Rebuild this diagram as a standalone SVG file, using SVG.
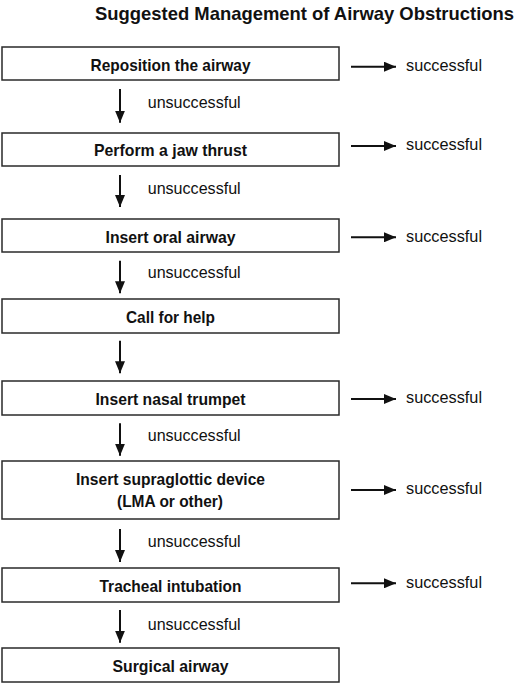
<svg xmlns="http://www.w3.org/2000/svg" width="520" height="684" viewBox="0 0 520 684">
<defs>
<style>
.box{fill:#fff;stroke:#2a2a2a;stroke-width:1.5}
.lbl{font-family:"Liberation Sans",Arial,sans-serif;font-weight:bold;font-size:17px;fill:#111;text-anchor:middle}
.ttl{font-family:"Liberation Sans",Arial,sans-serif;font-weight:bold;font-size:18.4px;fill:#111}
.note{font-family:"Liberation Sans",Arial,sans-serif;font-size:16.5px;fill:#111}
.ln{stroke:#111;stroke-width:2;fill:none}
</style>
<marker id="ah" viewBox="0 0 12 10" refX="12" refY="5" markerUnits="userSpaceOnUse" markerWidth="12" markerHeight="10" orient="auto">
<path d="M0,0 L12,5 L0,10 Z" fill="#111"/>
</marker>
</defs>
<rect width="520" height="684" fill="#fff"/>
<text class="ttl" x="95" y="19.5" textLength="419" lengthAdjust="spacingAndGlyphs">Suggested Management of Airway Obstructions</text>

<g id="n1"><rect class="box" x="2" y="47" width="337" height="33"/><text class="lbl" x="170.5" y="71" textLength="160" lengthAdjust="spacingAndGlyphs">Reposition the airway</text></g>
<g id="n2"><rect class="box" x="2" y="133" width="337" height="33"/><text class="lbl" x="170.5" y="156" textLength="153" lengthAdjust="spacingAndGlyphs">Perform a jaw thrust</text></g>
<g id="n3"><rect class="box" x="2" y="219" width="337" height="33"/><text class="lbl" x="170.5" y="242.5" textLength="130" lengthAdjust="spacingAndGlyphs">Insert oral airway</text></g>
<g id="n4"><rect class="box" x="2" y="299" width="337" height="34"/><text class="lbl" x="170.5" y="322.5" textLength="89" lengthAdjust="spacingAndGlyphs">Call for help</text></g>
<g id="n5"><rect class="box" x="2" y="381" width="337" height="34"/><text class="lbl" x="170.5" y="404.5" textLength="150" lengthAdjust="spacingAndGlyphs">Insert nasal trumpet</text></g>
<g id="n6"><rect class="box" x="2" y="461" width="337" height="58"/><text class="lbl" x="170.5" y="485" textLength="189" lengthAdjust="spacingAndGlyphs">Insert supraglottic device</text><text class="lbl" x="170" y="506.5" textLength="106" lengthAdjust="spacingAndGlyphs">(LMA or other)</text></g>
<g id="n7"><rect class="box" x="2" y="568" width="337" height="34"/><text class="lbl" x="170.5" y="591.5" textLength="142" lengthAdjust="spacingAndGlyphs">Tracheal intubation</text></g>
<g id="n8"><rect class="box" x="2" y="648" width="337" height="34"/><text class="lbl" x="170.5" y="671.5" textLength="116" lengthAdjust="spacingAndGlyphs">Surgical airway</text></g>

<g id="connectors">
<line class="ln" x1="120" y1="89" x2="120" y2="122.7" marker-end="url(#ah)"/>
<line class="ln" x1="120" y1="175" x2="120" y2="207" marker-end="url(#ah)"/>
<line class="ln" x1="120" y1="260.7" x2="120" y2="293.3" marker-end="url(#ah)"/>
<line class="ln" x1="120" y1="340.7" x2="120" y2="373.3" marker-end="url(#ah)"/>
<line class="ln" x1="120" y1="423.3" x2="120" y2="455.7" marker-end="url(#ah)"/>
<line class="ln" x1="120" y1="529" x2="120" y2="562" marker-end="url(#ah)"/>
<line class="ln" x1="120" y1="610" x2="120" y2="642.7" marker-end="url(#ah)"/>

<line class="ln" x1="351" y1="66.7" x2="396" y2="66.7" marker-end="url(#ah)"/>
<line class="ln" x1="351" y1="146" x2="396" y2="146" marker-end="url(#ah)"/>
<line class="ln" x1="351" y1="237.3" x2="396" y2="237.3" marker-end="url(#ah)"/>
<line class="ln" x1="351" y1="399" x2="396" y2="399" marker-end="url(#ah)"/>
<line class="ln" x1="351" y1="490" x2="396" y2="490" marker-end="url(#ah)"/>
<line class="ln" x1="351" y1="583.3" x2="396" y2="583.3" marker-end="url(#ah)"/>

<text class="note" x="147.7" y="107.7" textLength="93" lengthAdjust="spacingAndGlyphs">unsuccessful</text>
<text class="note" x="147.7" y="194" textLength="93" lengthAdjust="spacingAndGlyphs">unsuccessful</text>
<text class="note" x="147.7" y="278" textLength="93" lengthAdjust="spacingAndGlyphs">unsuccessful</text>
<text class="note" x="147.7" y="440.7" textLength="93" lengthAdjust="spacingAndGlyphs">unsuccessful</text>
<text class="note" x="147.7" y="547.3" textLength="93" lengthAdjust="spacingAndGlyphs">unsuccessful</text>
<text class="note" x="147.7" y="630" textLength="93" lengthAdjust="spacingAndGlyphs">unsuccessful</text>

<text class="note" x="406" y="70.7" textLength="76" lengthAdjust="spacingAndGlyphs">successful</text>
<text class="note" x="406" y="150" textLength="76" lengthAdjust="spacingAndGlyphs">successful</text>
<text class="note" x="406" y="241.7" textLength="76" lengthAdjust="spacingAndGlyphs">successful</text>
<text class="note" x="406" y="403.3" textLength="76" lengthAdjust="spacingAndGlyphs">successful</text>
<text class="note" x="406" y="494" textLength="76" lengthAdjust="spacingAndGlyphs">successful</text>
<text class="note" x="406" y="587.7" textLength="76" lengthAdjust="spacingAndGlyphs">successful</text>
</g>
</svg>
